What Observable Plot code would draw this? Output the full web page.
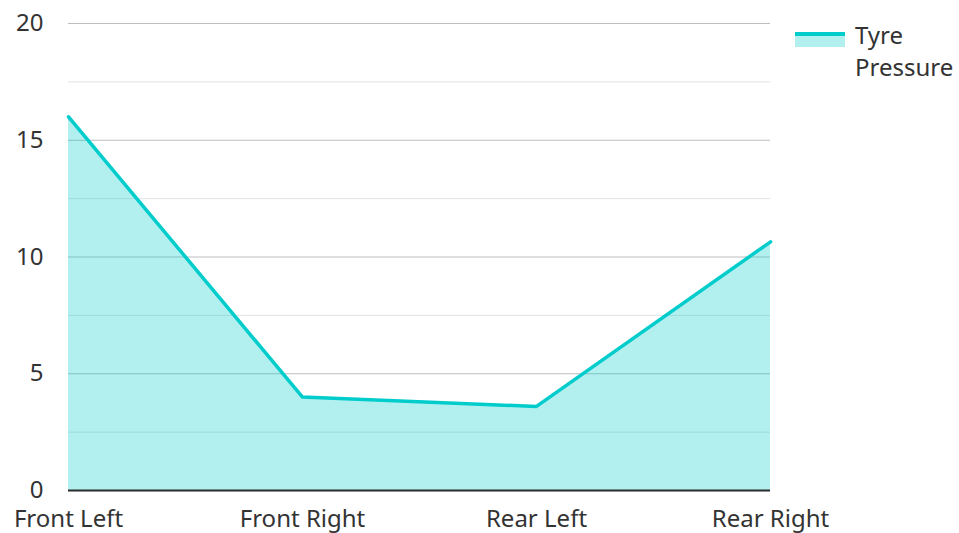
<!DOCTYPE html>
<html>
<head>
<meta charset="utf-8">
<script src="https://cdn.jsdelivr.net/npm/d3@7"></script>
<script src="https://cdn.jsdelivr.net/npm/@observablehq/plot@0.6"></script>
<style>
  body { margin: 0; background: #fff; font-family: "Noto Sans", sans-serif; }
  #wrap { position: relative; width: 959px; height: 533px; }
  #legend { position: absolute; left: 795px; top: 19px; display: flex; align-items: flex-start; }
  #legend .sw { width: 50px; height: 15px; margin-top: 13px; border-top: 4px solid #00cccc; background: rgba(0,204,204,0.3); box-sizing: border-box; }
  #legend .tx { margin-left: 10px; font-size: 24px; line-height: 32px; color: #333; }
</style>
</head>
<body>
<div id="wrap"></div>
<script>
const categories = ["Front Left", "Front Right", "Rear Left", "Rear Right"];
const pressure = [16, 4.0, 3.6, 10.65];
const seriesName = "Tyre Pressure";
const majorTicks = [0, 5, 10, 15, 20];
const minorTicks = [2.5, 7.5, 12.5, 17.5];

const data = categories.map((c, i) => ({ cat: c, v: pressure[i] }));

const chart = Plot.plot({
  width: 959,
  height: 533,
  marginLeft: 68,
  marginRight: 189,
  marginTop: 23,
  marginBottom: 43,
  style: { fontFamily: "Noto Sans, sans-serif", fontSize: "24px", color: "#333", background: "#fff" },
  x: { type: "point", domain: categories, padding: 0, label: null },
  y: { domain: [0, 20], label: null },
  marks: [
    Plot.ruleY(minorTicks, { stroke: "#e3e3e3", strokeWidth: 1 }),
    Plot.ruleY(majorTicks.filter(d => d > 0), { stroke: "#bdbdbd", strokeWidth: 1 }),
    Plot.areaY(data, { x: "cat", y: "v", fill: "#00cccc", fillOpacity: 0.3 }),
    Plot.lineY(data, { x: "cat", y: "v", stroke: "#00cccc", strokeWidth: 3.5 }),
    Plot.ruleY([0], { stroke: "#2b2b2b", strokeWidth: 2 }),
    Plot.axisY({ ticks: majorTicks, tickSize: 0, tickPadding: 25, label: null, fill: "#333" }),
    Plot.axisX({ tickSize: 0, tickPadding: 19, label: null, fill: "#333" })
  ]
});

const wrap = document.getElementById("wrap");
wrap.appendChild(chart);
const legend = document.createElement("div");
legend.id = "legend";
legend.innerHTML = `<div class="sw"></div><div class="tx">Tyre<br>Pressure</div>`;
wrap.appendChild(legend);
</script>
</body>
</html>
